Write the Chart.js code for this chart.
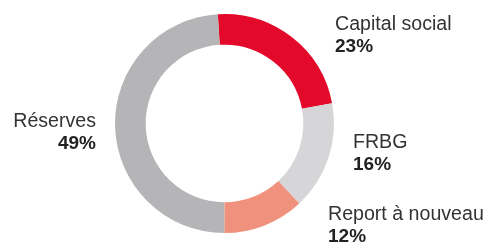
<!DOCTYPE html>
<html>
<head>
<meta charset="utf-8">
<script src="https://cdn.jsdelivr.net/npm/chart.js@4/dist/chart.umd.min.js"></script>
<style>
html,body{margin:0;padding:0;background:#fff;}
#wrap{width:490px;height:248px;position:relative;}
</style>
</head>
<body>
<div id="wrap"><canvas id="c" width="490" height="248"></canvas></div>
<script>
const categories = ["Capital social", "FRBG", "Report à nouveau", "Réserves"];
const shares = [23, 16, 12, 49];
const sliceColors = ["#e3092b", "#d6d6d8", "#f0917d", "#b5b5b7"];

// label anchor offsets from the doughnut centre (layout, not data)
const labelLayout = [
  {dx: 110.5, dy: -93.5, align: "left"},
  {dx: 128.5, dy: 24.5, align: "left"},
  {dx: 103.5, dy: 96.5, align: "left"},
  {dx: -128.5, dy: 3.5, align: "right"}
];

const labelPlugin = {
  id: "sliceLabels",
  afterDatasetsDraw(chart) {
    const ctx = chart.ctx;
    const meta = chart.getDatasetMeta(0);
    const arc0 = meta.data[0];
    if (!arc0) return;
    const cx = arc0.x, cy = arc0.y;
    ctx.save();
    ctx.textBaseline = "alphabetic";
    categories.forEach((name, i) => {
      const l = labelLayout[i];
      ctx.textAlign = l.align;
      ctx.font = "19.6px 'Liberation Sans', Arial, sans-serif";
      ctx.fillStyle = "#333333";
      ctx.fillText(name, cx + l.dx, cy + l.dy);
      ctx.font = "bold 19px 'Liberation Sans', Arial, sans-serif";
      ctx.fillStyle = "#222222";
      ctx.fillText(shares[i] + "%", cx + l.dx, cy + l.dy + 22);
    });
    ctx.restore();
  }
};

new Chart(document.getElementById("c"), {
  type: "doughnut",
  data: {
    labels: categories,
    datasets: [{
      data: shares,
      backgroundColor: sliceColors,
      borderWidth: 0,
      hoverOffset: 0
    }]
  },
  options: {
    responsive: false,
    animation: false,
    rotation: -3.5,
    cutout: "72%",
    layout: {padding: {left: 115, right: 156, top: 14, bottom: 15}},
    plugins: {legend: {display: false}, tooltip: {enabled: false}}
  },
  plugins: [labelPlugin]
});
</script>
</body>
</html>
